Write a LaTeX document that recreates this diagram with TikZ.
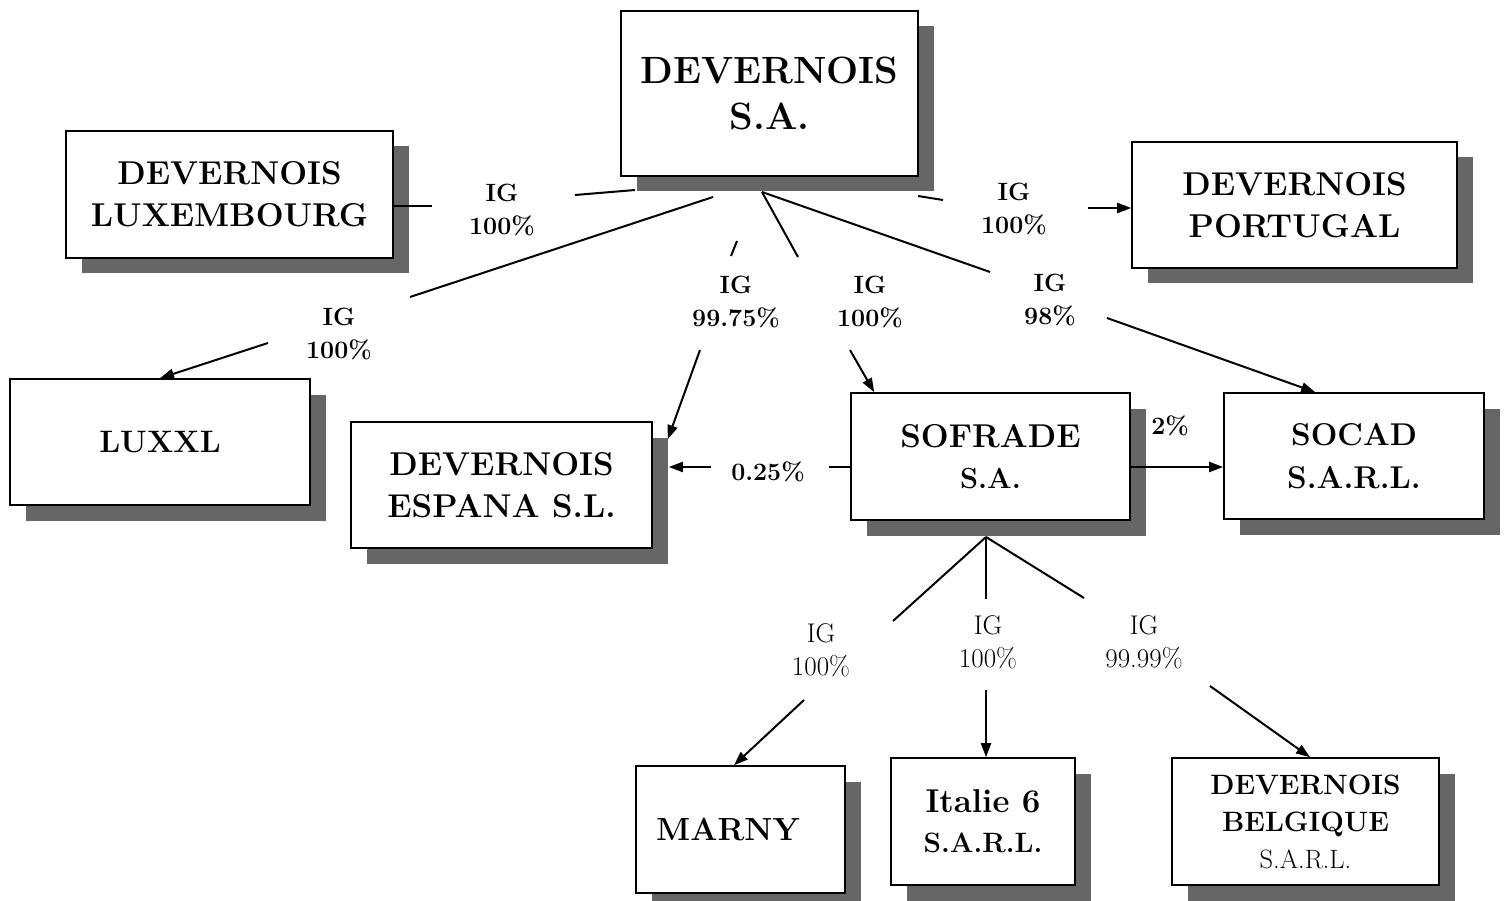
\documentclass[tikz,border=0pt]{standalone}
\usepackage{fontspec}
\usetikzlibrary{arrows.meta,shadows}
\definecolor{shadowgray}{gray}{0.40}
\pgfdeclarelayer{background}
\pgfsetlayers{background,main}
\tikzset{
  box/.style={draw=black, line width=1.6pt, fill=white, align=center, inner sep=0pt,
    drop shadow={shadow xshift=15.5pt, shadow yshift=-15.5pt, fill=shadowgray, opacity=1, draw=none}},
  conn/.style={line width=2pt},
  arr/.style={line width=2pt, -{Triangle[length=14pt,width=10pt]}},
  lbl/.style={align=center, inner sep=0pt, font=\bfseries\fontsize{25}{33}\selectfont},
  lbll/.style={align=center, inner sep=0pt, font=\fontsize{27}{33}\selectfont},
  txt/.style={align=center, inner sep=0pt},
}
\begin{document}
\begin{tikzpicture}[x=1pt,y=-1pt]
\useasboundingbox (0,0) rectangle (1505,901);
% boxes
\node[box, minimum width=297, minimum height=165, font=\bfseries\fontsize{38}{46}\selectfont] (top) at (769.5,93.5) {DEVERNOIS\\S.A.};
\node[box, minimum width=327, minimum height=127, font=\bfseries\fontsize{33}{42}\selectfont] (lux) at (229.5,194.5) {DEVERNOIS\\LUXEMBOURG};
\node[box, minimum width=325, minimum height=126, font=\bfseries\fontsize{33}{42}\selectfont] (por) at (1294.5,205) {DEVERNOIS\\PORTUGAL};
\node[box, minimum width=300, minimum height=126, font=\bfseries\fontsize{31}{42}\selectfont] (luxxl) at (160,442) {LUXXL};
\node[box, minimum width=301, minimum height=126, font=\bfseries\fontsize{33}{42}\selectfont] (esp) at (501.5,485) {DEVERNOIS\\ESPANA S.L.};
\node[box, minimum width=279, minimum height=127, font=\bfseries\fontsize{33}{41}\selectfont] (sof) at (990.5,456.5) {SOFRADE\\{\fontsize{29}{41}\selectfont S.A.}};
\node[box, minimum width=260, minimum height=126, font=\bfseries\fontsize{31.5}{43}\selectfont] (soc) at (1354,456) {SOCAD\\S.A.R.L.};
\node[box, minimum width=209, minimum height=127] (marny) at (740.5,829.5) {};
\node[txt, font=\bfseries\fontsize{32}{40}\selectfont] (marnyt) at (728,829) {MARNY};
\node[box, minimum width=184, minimum height=127, font=\bfseries\fontsize{33}{40}\selectfont] (ital) at (983,821.5) {Italie 6\\{\fontsize{28}{40}\selectfont S.A.R.L.}};
\node[box, minimum width=267, minimum height=127, font=\bfseries\fontsize{28}{37}\selectfont] (belg) at (1305.5,821.5) {DEVERNOIS\\BELGIQUE\\{\mdseries\fontsize{26.5}{37}\selectfont S.A.R.L.}};
% labels
\node[lbl] (llux) at (502,209.5) {IG\\100\%};
\node[lbl] (lluxxl) at (339,333.5) {IG\\100\%};
\node[lbl] (lesp) at (736,301.5) {IG\\99.75\%};
\node[lbl] (lsof) at (870,301.5) {IG\\100\%};
\node[lbl] (lsoc) at (1050,300) {IG\\98\%};
\node[lbl] (lpor) at (1014,208.5) {IG\\100\%};
\node[lbl] (lesp2) at (768,472) {0.25\%};
\node[lbl] (lsoc2) at (1170,426) {2\%};
\node[lbll] (lmar) at (821,650.5) {IG\\100\%};
\node[lbll] (lita) at (988,642.5) {IG\\100\%};
\node[lbll] (lbel) at (1144,642.5) {IG\\99.99\%};
% coordinates
\coordinate (hub) at (762,192);
\coordinate (shub) at (986,537);
\coordinate (a1) at (575,195);
\coordinate (a2) at (635,190);
\coordinate (a3) at (432,206);
\coordinate (b1) at (918,196);
\coordinate (b2) at (943,200);
\coordinate (b3) at (1088,208);
\coordinate (c1) at (713,197);
\coordinate (c2) at (410,297);
\coordinate (c3) at (268,343);
\coordinate (d1) at (737,241);
\coordinate (d2) at (731,256);
\coordinate (d3) at (700,350);
\coordinate (e1) at (798,257);
\coordinate (e2) at (850,350);
\coordinate (f1) at (990,272);
\coordinate (f2) at (1107,318);
\coordinate (g1) at (829,467);
\coordinate (g2) at (711,467);
\coordinate (m1) at (893,621);
\coordinate (m2) at (804,700);
\coordinate (i1) at (986,599);
\coordinate (i2) at (986,690);
\coordinate (k1) at (1084,598);
\coordinate (k2) at (1210,686);
% connectors from DEVERNOIS S.A.
\draw[conn] (a2) -- (a1);
\draw[conn] (a3) -- (a3 -| lux.east);
\draw[conn] (b1) -- (b2);
\draw[arr] (b3) -- (b3 -| por.west);
\draw[conn] (c1) -- (c2);
\draw[arr] (c3) -- (luxxl.north);
\draw[conn] (d1) -- (d2);
\draw[arr] (d3) -- ([shift={(15,18)}]esp.north east);
\draw[conn] (hub) -- (e1);
\draw[arr] (e2) -- ([xshift=24pt]sof.north west);
\draw[conn] (hub) -- (f1);
\draw[arr] (f2) -- ([xshift=92pt]soc.north west);
% connectors from SOFRADE
\draw[conn] (g1) -- (g1 -| sof.west);
\draw[arr] (g2) -- ([xshift=16pt]g2 -| esp.east);
\draw[arr] ([yshift=-10.5pt]sof.east) -- ([yshift=-10.5pt]sof.east -| soc.west);
\draw[conn] (shub) -- (m1);
\draw[conn] (shub) -- (i1);
\draw[conn] (shub) -- (k1);
\draw[arr] (m2) -- ([xshift=-6.5pt]marny.north);
\draw[arr] (i2) -- (i2 |- ital.north);
\draw[arr] (k2) -- ([xshift=4.5pt]belg.north);
\end{tikzpicture}
\end{document}
